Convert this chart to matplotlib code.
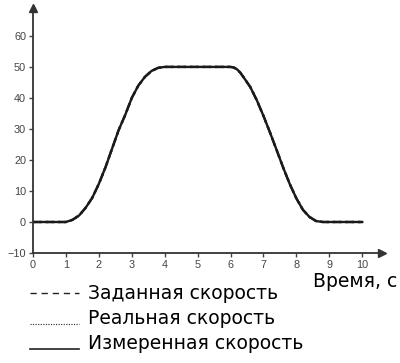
import matplotlib
matplotlib.use("Agg")
import matplotlib.pyplot as plt
from matplotlib.lines import Line2D

plt.rcParams['font.family'] = ['Liberation Sans', 'DejaVu Sans']

# time, s and speed values
t = [0, 1.0, 1.2, 1.4, 1.6, 1.8, 2.0, 2.2, 2.4, 2.6, 2.8, 3.0, 3.2, 3.4, 3.6, 3.8, 4.0,
     5.0, 6.0, 6.1, 6.2, 6.3, 6.4, 6.6, 6.8, 7.0, 7.2, 7.4, 7.6, 7.8, 8.0, 8.2, 8.4, 8.6,
     8.8, 9.0, 10.0]
set_speed = [0, 0, 0.7, 2.1, 4.6, 7.8, 12.3, 17.6, 23.6, 29.6, 34.5, 40, 44, 46.8, 48.7,
             49.7, 50, 50, 50, 49.8, 49.2, 48.1, 46.6, 43.5, 39.2, 34.2, 28.8, 23.2, 17.5,
             12.2, 7.6, 3.9, 1.6, 0.3, 0, 0, 0]
real_speed = [0, 0, 0.7, 2.1, 4.6, 7.8, 12.3, 17.6, 23.6, 29.6, 34.5, 40, 44, 46.8, 48.7,
              49.7, 50, 50, 50, 49.8, 49.2, 48.1, 46.6, 43.5, 39.2, 34.2, 28.8, 23.2, 17.5,
              12.2, 7.6, 3.9, 1.6, 0.3, 0, 0, 0]
meas_speed = [0, 0, 0.7, 2.1, 4.6, 7.8, 12.3, 17.6, 23.6, 29.6, 34.5, 40, 44, 46.8, 48.7,
              49.7, 50, 50, 50, 49.8, 49.2, 48.1, 46.6, 43.5, 39.2, 34.2, 28.8, 23.2, 17.5,
              12.2, 7.6, 3.9, 1.6, 0.3, 0, 0, 0]
labels = ["Заданная скорость", "Реальная скорость", "Измеренная скорость"]
xticks = list(range(0, 11))
yticks = list(range(-10, 70, 10))

fig = plt.figure(figsize=(4, 3.63), dpi=100)
ax = fig.add_axes([0.0825, 0.303, 0.8725, 0.675])

ax.plot(t, set_speed, color='#333333', lw=1.7, ls='--', solid_joinstyle='round')
ax.plot(t, real_speed, color='#333333', lw=1.7, ls=':', solid_joinstyle='round')
ax.plot(t, meas_speed, color='#1a1a1a', lw=1.7, solid_joinstyle='round')

ax.set_xlim(0, 10.6)
ax.set_ylim(-10, 69)
ax.set_xticks(xticks)
ax.set_yticks(yticks)
ax.tick_params(labelsize=7.8, colors='#444444', length=3, width=1, pad=2)
ax.spines[['top', 'right']].set_visible(False)
for s in ['left', 'bottom']:
    ax.spines[s].set_linewidth(1.3)
    ax.spines[s].set_color('#333333')

# arrow heads on the axes
ax.plot(1, 0, '>', color='#333333', ms=6, transform=ax.transAxes, clip_on=False)
ax.plot(0, 1, '^', color='#333333', ms=6, transform=ax.transAxes, clip_on=False)

lfont = dict(family=['DejaVu Sans'], fontsize=13.5)
fig.text(0.993, 1 - 287 / 363, "Время, с", ha='right', va='baseline', **lfont)

# legend drawn by hand below the axes
styles = [(0, (4.5, 3.5)), (0, (1, 1.3)), '-']
widths = [1.0, 0.8, 1.2]
line_y = [293.3, 324.3, 349.0]
base_y = [299.3, 324.3, 349.3]
for lab, st, w, ly, by in zip(labels, styles, widths, line_y, base_y):
    yl = 1 - ly / 363
    fig.add_artist(Line2D([30 / 400, 79 / 400], [yl, yl], color='#222222', lw=w, ls=st,
                          transform=fig.transFigure))
    fig.text(88 / 400, 1 - by / 363, lab, ha='left', va='baseline', **lfont)

fig.savefig("out.png", dpi=100)
